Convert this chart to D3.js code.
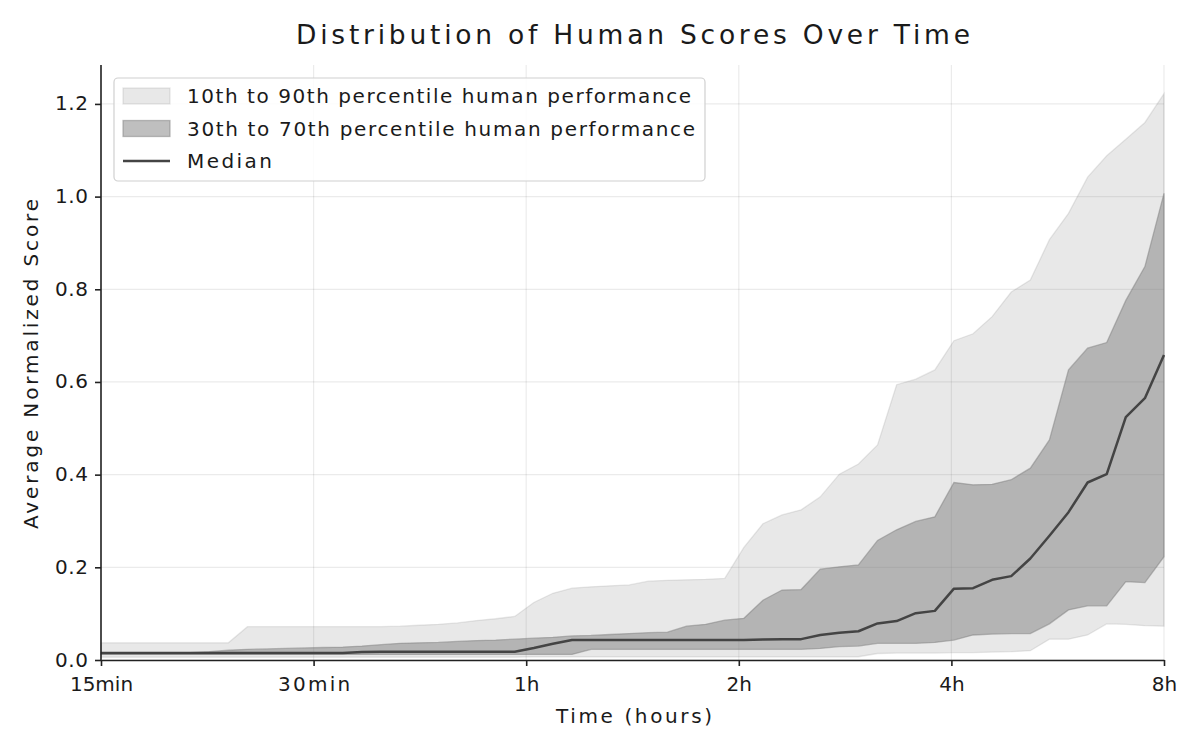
<!DOCTYPE html>
<html>
<head>
<meta charset="utf-8">
<script src="https://cdn.jsdelivr.net/npm/d3@7"></script>
<style>
  body { margin: 0; background: #fff; }
  text { font-family: "DejaVu Sans", sans-serif; fill: #1a1a1a; }
</style>
</head>
<body>
<svg id="chart" width="1200" height="750"></svg>
<script>
// ---------------- DATA ----------------
const timesMin = [15, 15.64, 16.64, 17.71, 18.85, 20.06, 21.35, 22.72, 24.18, 25.73, 27.38, 29.14, 31.01, 33.00, 35.12, 37.38, 39.78, 42.34, 45.06, 47.95, 51.03, 54.31, 57.80, 61.51, 65.46, 69.66, 74.14, 78.90, 83.97, 89.36, 95.10, 101.21, 107.71, 114.63, 122.0, 129.83, 138.17, 147.05, 156.50, 166.55, 177.25, 188.64, 200.76, 213.66, 227.38, 241.99, 257.54, 274.08, 291.69, 310.43, 330.37, 351.59, 374.18, 398.22, 423.80, 451.02, 480];

const p90 = [0.037, 0.037, 0.037, 0.037, 0.037, 0.037, 0.037, 0.037, 0.072, 0.072, 0.072, 0.072, 0.072, 0.072, 0.072, 0.072, 0.073, 0.075, 0.077, 0.080, 0.085, 0.089, 0.094, 0.124, 0.144, 0.155, 0.158, 0.160, 0.162, 0.170, 0.172, 0.173, 0.174, 0.176, 0.243, 0.294, 0.313, 0.324, 0.352, 0.401, 0.423, 0.464, 0.594, 0.606, 0.626, 0.689, 0.704, 0.741, 0.794, 0.820, 0.907, 0.964, 1.042, 1.088, 1.124, 1.160, 1.222];

const p70 = [0.016, 0.016, 0.016, 0.016, 0.016, 0.016, 0.018, 0.021, 0.023, 0.024, 0.025, 0.026, 0.027, 0.028, 0.030, 0.033, 0.036, 0.037, 0.038, 0.040, 0.042, 0.043, 0.045, 0.047, 0.049, 0.052, 0.053, 0.055, 0.057, 0.059, 0.060, 0.073, 0.077, 0.086, 0.090, 0.129, 0.151, 0.152, 0.196, 0.201, 0.205, 0.258, 0.281, 0.299, 0.309, 0.383, 0.378, 0.379, 0.389, 0.414, 0.475, 0.626, 0.673, 0.685, 0.776, 0.849, 1.007];

const median = [0.015, 0.015, 0.015, 0.015, 0.015, 0.015, 0.015, 0.015, 0.015, 0.015, 0.015, 0.015, 0.015, 0.015, 0.017, 0.018, 0.018, 0.018, 0.018, 0.018, 0.018, 0.018, 0.018, 0.026, 0.035, 0.043, 0.043, 0.043, 0.043, 0.043, 0.043, 0.043, 0.043, 0.043, 0.043, 0.044, 0.045, 0.045, 0.054, 0.059, 0.062, 0.079, 0.084, 0.101, 0.106, 0.154, 0.155, 0.173, 0.181, 0.219, 0.268, 0.319, 0.383, 0.401, 0.524, 0.565, 0.658];

const p30 = [0.012, 0.012, 0.012, 0.012, 0.012, 0.012, 0.012, 0.012, 0.012, 0.012, 0.012, 0.012, 0.012, 0.012, 0.012, 0.012, 0.012, 0.012, 0.012, 0.012, 0.012, 0.012, 0.012, 0.012, 0.012, 0.012, 0.023, 0.023, 0.023, 0.023, 0.023, 0.023, 0.023, 0.023, 0.023, 0.023, 0.023, 0.023, 0.025, 0.029, 0.030, 0.036, 0.036, 0.036, 0.038, 0.043, 0.054, 0.056, 0.057, 0.057, 0.078, 0.108, 0.117, 0.117, 0.169, 0.167, 0.223];

const p10 = [0.006, 0.006, 0.006, 0.006, 0.006, 0.006, 0.006, 0.006, 0.006, 0.006, 0.006, 0.006, 0.006, 0.006, 0.006, 0.006, 0.006, 0.006, 0.006, 0.006, 0.006, 0.006, 0.006, 0.007, 0.007, 0.007, 0.007, 0.007, 0.007, 0.007, 0.007, 0.007, 0.007, 0.007, 0.007, 0.007, 0.007, 0.007, 0.007, 0.007, 0.007, 0.014, 0.015, 0.015, 0.015, 0.016, 0.016, 0.017, 0.018, 0.020, 0.045, 0.045, 0.054, 0.078, 0.077, 0.074, 0.073];

const xTickValues = [15, 30, 60, 120, 240, 480];
const xTickLabels = ["15min", "30min", "1h", "2h", "4h", "8h"];
const yTickValues = [0, 0.2, 0.4, 0.6, 0.8, 1.0, 1.2];
const legendLabels = ["10th to 90th percentile human performance", "30th to 70th percentile human performance", "Median"];
const titleText = "Distribution of Human Scores Over Time";
const xLabelText = "Time (hours)";
const yLabelText = "Average Normalized Score";

// ---------------- LAYOUT ----------------
const L = 101, R = 1164, B = 660, T = 65;
const FS = 20;
const svg = d3.select("#chart");
const x = d3.scaleLog().base(2).domain([15, 480]).range([L, R]);
const y = d3.scaleLinear().domain([0, 1.284]).range([B, T]);

const rows = timesMin.map((t, i) => ({ t, p10: p10[i], p30: p30[i], med: median[i], p70: p70[i], p90: p90[i] }));

function fit(sel, w) {
  sel.each(function () {
    const n = this.getComputedTextLength();
    if (n > 0) d3.select(this).attr("textLength", w).attr("lengthAdjust", "spacing");
  });
}

// grid
const grid = svg.append("g");
grid.selectAll(".gx").data(xTickValues).join("line")
  .attr("x1", d => x(d)).attr("x2", d => x(d)).attr("y1", T).attr("y2", B)
  .attr("stroke", "#000").attr("stroke-opacity", 0.08).attr("stroke-width", 1.2);
grid.selectAll(".gy").data(yTickValues).join("line")
  .attr("x1", L).attr("x2", R).attr("y1", d => y(d)).attr("y2", d => y(d))
  .attr("stroke", "#000").attr("stroke-opacity", 0.08).attr("stroke-width", 1.2);

// bands
const area90 = d3.area().x(d => x(d.t)).y0(d => y(d.p10)).y1(d => y(d.p90));
const area70 = d3.area().x(d => x(d.t)).y0(d => y(d.p30)).y1(d => y(d.p70));
svg.append("path").datum(rows).attr("d", area90)
  .attr("fill", "#808080").attr("fill-opacity", 0.18)
  .attr("stroke", "#808080").attr("stroke-opacity", 0.18).attr("stroke-width", 1.3);
svg.append("path").datum(rows).attr("d", area70)
  .attr("fill", "#808080").attr("fill-opacity", 0.5)
  .attr("stroke", "#808080").attr("stroke-opacity", 0.5).attr("stroke-width", 1.3);

// median
svg.append("path").datum(rows)
  .attr("d", d3.line().x(d => x(d.t)).y(d => y(d.med)))
  .attr("fill", "none").attr("stroke", "#444444").attr("stroke-width", 2.5)
  .attr("stroke-linejoin", "round");

// axes
const xAxis = svg.append("g").attr("transform", `translate(0,${B})`)
  .call(d3.axisBottom(x).tickValues(xTickValues).tickFormat((d, i) => xTickLabels[i]).tickSize(6).tickSizeOuter(0));
const yAxis = svg.append("g").attr("transform", `translate(${L},0)`)
  .call(d3.axisLeft(y).tickValues(yTickValues).tickFormat(d3.format(".1f")).tickSize(6).tickSizeOuter(0));
yAxis.select(".domain").attr("d", `M0,${B}V${T}`);
[xAxis, yAxis].forEach(a => {
  a.select(".domain").attr("stroke", "#222").attr("stroke-width", 1.6);
  a.selectAll(".tick line").attr("stroke", "#222").attr("stroke-width", 1.6);
  a.selectAll(".tick text").attr("font-size", FS).attr("fill", "#1a1a1a")
    .attr("font-family", "DejaVu Sans, sans-serif");
});
xAxis.selectAll(".tick text").attr("y", 17);
yAxis.selectAll(".tick text").attr("x", -13).attr("dy", "0.3em");
xAxis.selectAll(".tick text").each(function (d, i) {
  const w = [63, 72, 22, 25, 25, 25][i];
  const n = this.getComputedTextLength();
  if (n < w) d3.select(this).attr("textLength", w).attr("lengthAdjust", "spacing");
});
yAxis.selectAll(".tick text").each(function () {
  const n = this.getComputedTextLength();
  if (n < 33) d3.select(this).attr("textLength", 33).attr("lengthAdjust", "spacing");
});

// title and labels
svg.append("text").attr("x", 633).attr("y", 44).attr("text-anchor", "middle")
  .attr("font-size", 26.5).text(titleText).call(fit, 674);
svg.append("text").attr("x", 634).attr("y", 723).attr("text-anchor", "middle")
  .attr("font-size", FS).text(xLabelText).call(fit, 156);
svg.append("text").attr("transform", "translate(38,364) rotate(-90)").attr("text-anchor", "middle")
  .attr("font-size", FS).text(yLabelText).call(fit, 330);

// legend
const lg = svg.append("g");
lg.append("rect").attr("x", 114).attr("y", 78).attr("width", 591).attr("height", 103).attr("rx", 4)
  .attr("fill", "#fff").attr("fill-opacity", 0.85).attr("stroke", "#d0d0d0").attr("stroke-width", 1.2);
const rowY = [96, 128.5, 161];
lg.append("rect").attr("x", 123).attr("y", rowY[0] - 8).attr("width", 47).attr("height", 16)
  .attr("fill", "#808080").attr("fill-opacity", 0.18).attr("stroke", "#808080").attr("stroke-opacity", 0.18).attr("stroke-width", 1.3);
lg.append("rect").attr("x", 123).attr("y", rowY[1] - 8).attr("width", 47).attr("height", 16)
  .attr("fill", "#808080").attr("fill-opacity", 0.5).attr("stroke", "#808080").attr("stroke-opacity", 0.5).attr("stroke-width", 1.3);
lg.append("line").attr("x1", 123).attr("x2", 170).attr("y1", rowY[2]).attr("y2", rowY[2])
  .attr("stroke", "#444444").attr("stroke-width", 2.5);
const legendWidths = [504, 508, 85];
legendLabels.forEach((s, i) => {
  lg.append("text").attr("x", 187).attr("y", rowY[i] + 7).attr("font-size", FS).text(s).call(fit, legendWidths[i]);
});
</script>
</body>
</html>
